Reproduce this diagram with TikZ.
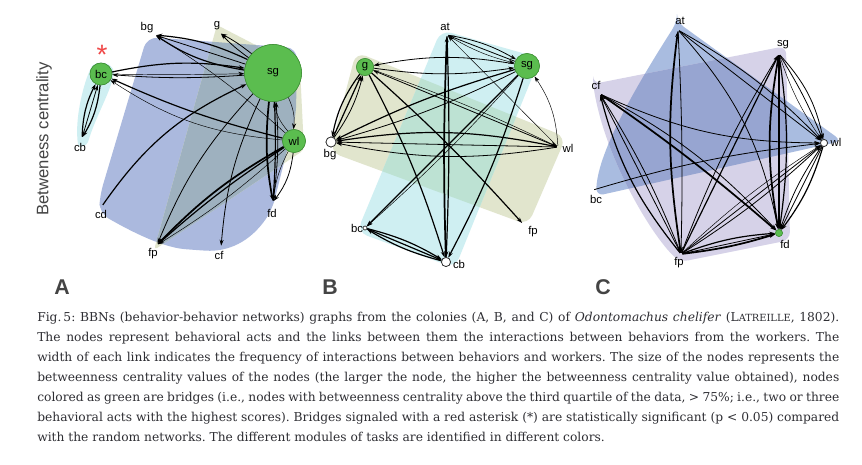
\documentclass[tikz,border=0pt]{standalone}
\usepackage{fontspec}
\setmainfont{DejaVu Serif}
\newfontfamily\lblf{Liberation Sans}
\usetikzlibrary{arrows.meta}
\definecolor{ngreen}{HTML}{5BBD4F}
\definecolor{ngreenD}{HTML}{3F8F36}
\definecolor{hcyan}{HTML}{CFEFF2}
\definecolor{hblue}{HTML}{ABB9DE}
\definecolor{hkhaki}{HTML}{E1E5CD}
\definecolor{hgrey}{HTML}{9EB1BF}
\definecolor{hmint}{HTML}{BDE2D3}
\definecolor{cblue}{HTML}{A9BCE0}
\definecolor{clav}{HTML}{D6D2E8}
\definecolor{cover}{HTML}{97A5D1}
\definecolor{captxt}{HTML}{2E2E33}
\definecolor{axtxt}{HTML}{444444}
\definecolor{astred}{HTML}{F04848}
\begin{document}
\begin{tikzpicture}[x=0.75pt,y=-0.75pt,
  pt/.style={circle,inner sep=0pt,minimum size=1.5pt},
  gn/.style={circle,fill=ngreen,draw=ngreenD,line width=0.4pt,inner sep=0pt,font=\lblf\fontsize{8.5}{9}\selectfont},
  wn/.style={circle,fill=white,draw=black!85,line width=0.5pt,inner sep=0pt},
  lbl/.style={font=\lblf\fontsize{8.5}{9}\selectfont,inner sep=0pt},
  tip/.style={-{Stealth[length=4.5pt,width=3pt]}},
  ea/.style={tip,line width=0.35pt},
  eb/.style={tip,line width=0.6pt},
  ec/.style={tip,line width=0.9pt},
  ed/.style={tip,line width=1.3pt},
  panel/.style={font=\lblf\bfseries\fontsize{16}{16}\selectfont,text=axtxt,inner sep=0pt}]
\useasboundingbox (0,0) rectangle (862,464);
\fill[white] (0,0) rectangle (862,464);

% ---------- Panel A hulls
\fill[hcyan] (78,144) .. controls (74,120) and (84,80) .. (92,66) .. controls (98,60) and (112,62) .. (114,72) .. controls (112,90) and (96,115) .. (88,142) .. controls (86,147) and (79,148) .. (78,144) -- cycle;
\fill[hblue,rounded corners=8pt] (147,37) -- (297,48) -- (296,115) -- (272,210) .. controls (250,242) and (228,252) .. (195,250) .. controls (160,247) and (125,228) .. (99,213) -- (100,195) -- cycle;
\fill[hkhaki,rounded corners=3pt] (217,25) -- (300,68) -- (304,150) -- (154,250) -- cycle;
\begin{scope}
\clip[rounded corners=8pt] (147,37) -- (297,48) -- (296,115) -- (272,210) .. controls (250,242) and (228,252) .. (195,250) .. controls (160,247) and (125,228) .. (99,213) -- (100,195) -- cycle;
\fill[hgrey,rounded corners=3pt] (217,25) -- (300,68) -- (304,150) -- (154,250) -- cycle;
\end{scope}

% ---------- Panel B hulls
\fill[hkhaki,rounded corners=8pt] (356,52) -- (566,137) -- (528,225) -- (330,152) -- cycle;
\fill[hcyan,rounded corners=8pt] (441,30) -- (540,58) -- (455,268) -- (357,232) -- cycle;
\begin{scope}
\clip[rounded corners=8pt] (356,52) -- (566,137) -- (528,225) -- (330,152) -- cycle;
\fill[hmint,rounded corners=8pt] (441,30) -- (540,58) -- (455,268) -- (357,232) -- cycle;
\end{scope}

% ---------- Panel C hulls
\fill[cblue,rounded corners=6pt] (677,22) -- (842,141) -- (596,196) .. controls (598,150) and (640,80) .. (677,22) -- cycle;
\fill[clav,rounded corners=6pt] (593,84) -- (786,46) -- (790,240) -- (680,262) .. controls (652,236) and (606,160) .. (593,84) -- cycle;
\begin{scope}
\clip[rounded corners=6pt] (677,22) -- (842,141) -- (596,196) .. controls (598,150) and (640,80) .. (677,22) -- cycle;
\fill[cover,rounded corners=6pt] (593,84) -- (786,46) -- (790,240) -- (680,262) .. controls (652,236) and (606,160) .. (593,84) -- cycle;
\end{scope}

% ---------- Panel A nodes
\node[pt] (Acb) at (82,138) {};
\node[pt] (Abg) at (155,35) {};
\node[pt] (Ag) at (220,33) {};
\node[pt] (Acd) at (102,206) {};
\node[pt] (Afd) at (273,202) {};
\node[pt] (Afp) at (157,245) {};
\node[pt] (Acf) at (221,247) {};
\node[gn,minimum size=16.5pt] (Abc) at (101,74) {};
\node[gn,minimum size=42.75pt] (Asg) at (273,73) {};
\node[gn,minimum size=17.25pt] (Awl) at (294,141) {};

% Panel A edges
\draw[ec] (Abc) to[bend left=12] (Acb);
\draw[ec] (Acb) to[bend left=12] (Abc);
\draw[eb] (Acb) -- (Abc);
\draw[ec] (Abc) to[bend left=10] (Asg);
\draw[eb] (Asg) to[bend left=4] (Abc);
\draw[ea] (Abc) to[bend right=1] (Asg);
\draw[ec] (Awl) to[bend left=5] (Abc);
\draw[ea] (Awl) to[bend left=14] (Abc);
\draw[ec] (Asg) to[bend left=12] (Abg);
\draw[ec] (Asg) to[bend right=10] (Abg);
\draw[eb] (Asg) -- (Abg);
\draw[ea] (Awl) to[bend right=5] (Abg);
\draw[eb] (Asg) to[bend left=5] (Ag);
\draw[eb] (Asg) to[bend right=5] (Ag);
\draw[ea] (Asg) to[bend left=15] (Awl);
\draw[ea] (Awl) to[bend left=15] (Asg);
\draw[ed] (Asg) to[bend right=8] (Afd);
\draw[ec] (Asg) to[bend left=3] (Afd);
\draw[eb] (Afd) to[bend right=6] (Asg);
\draw[eb] (Awl) to[bend left=15] (Afd);
\draw[ea] (Awl) to[bend right=10] (Afd);
\draw[eb] (Asg) to[bend right=10] (Acf);
\draw[eb] (Asg) to[bend right=10] (Afp);
\draw[ec] (Acd) to[bend left=15] (Asg);
\draw[ed] (Awl) to[bend right=8] (Afp);
\draw[ec] (Awl) to[bend right=4] (Afp);
\draw[ea] (Awl) to[bend left=5] (Afp);
% redraw green nodes on top
\node[gn,minimum size=16.5pt] at (Abc) {bc};
\node[gn,minimum size=42.75pt] at (Asg) {sg};
\node[gn,minimum size=17.25pt] at (Awl) {wl};

% Panel A labels
\node[lbl] (Lcb) at (80,147) {cb};
\node[lbl] (Lbg) at (147,28) {bg};
\node[lbl] (Lg) at (217,26) {g};
\node[lbl] (Lcd) at (101,214) {cd};
\node[lbl] (Lfd) at (272,213) {fd};
\node[lbl] (Lfp) at (153,254) {fp};
\node[lbl] (Lcf) at (219,255) {cf};
\node[font=\lblf\fontsize{21}{21}\selectfont,text=astred,inner sep=0pt] (ast) at (102,55) {*};
\node[rotate=90,font=\lblf\fontsize{12.5}{13}\selectfont,text=axtxt,inner sep=0pt] (ylab) at (44,139) {Betweness centrality};
\node[panel] (PA) at (62,287) {A};

% ---------- Panel B nodes
\node[pt] (Bat) at (447,35) {};
\node[gn,minimum size=12.75pt] (Bg) at (365,67) {g};
\node[gn,minimum size=18.75pt] (Bsg) at (527,66) {sg};
\node[wn,minimum size=7.5pt] (Bbg) at (331,142) {};
\node[pt] (Bwl) at (558,147) {};
\node[pt] (Bfp) at (523,224) {};
\node[wn,minimum size=3pt] (Bbc) at (365,228) {};
\node[wn,minimum size=6.75pt] (Bcb) at (446,262) {};

\draw[eb] (Bat) to[bend left=10] (Bsg);
\draw[eb] (Bsg) -- (Bat);
\draw[ea] (Bat) to[bend right=8] (Bsg);
\draw[ed] (Bcb) to[bend left=2] (Bat);
\draw[ec] (Bat) to[bend left=2] (Bcb);
\draw[ea] (Bwl) -- (Bat);
\draw[eb] (Bsg) to[bend right=10] (Bg);
\draw[eb] (Bg) to[bend right=8] (Bsg);
\draw[ec] (Bg) to[bend right=12] (Bbg);
\draw[eb] (Bbg) to[bend right=10] (Bg);
\draw[ec] (Bbg) -- (Bg);
\draw[ec] (Bg) to[bend left=5] (Bcb);
\draw[ec] (Bg) to[bend left=3] (Bfp);
\draw[eb] (Bwl) -- (Bg);
\draw[ea] (Bg) to[bend left=3] (Bwl);
\draw[ec] (Bsg) to[bend right=5] (Bbg);
\draw[eb] (Bsg) to[bend left=5] (Bbg);
\draw[ec] (Bsg) -- (Bbc);
\draw[ea] (Bsg) to[bend left=3] (Bbc);
\draw[ec] (Bsg) to[bend left=5] (Bcb);
\draw[ec] (Bwl) to[bend right=10] (Bbg);
\draw[eb] (Bwl) -- (Bbg);
\draw[eb] (Bwl) to[bend left=10] (Bbg);
\draw[ea] (Bwl) to[bend right=15] (Bsg);
\draw[ec] (Bbc) to[bend left=8] (Bcb);
\draw[ec] (Bcb) to[bend left=8] (Bbc);
\draw[ec] (Bbc) -- (Bcb);
\node[gn,minimum size=12.75pt] at (Bg) {g};
\node[gn,minimum size=18.75pt] at (Bsg) {sg};
\node[wn,minimum size=7.5pt] at (Bbg) {};
\node[wn,minimum size=6.75pt] at (Bcb) {};

\node[lbl] (LBat) at (445,27) {at};
\node[lbl] (LBbg) at (330,155) {bg};
\node[lbl] (LBwl) at (568,148) {wl};
\node[lbl] (LBfp) at (533,232) {fp};
\node[lbl] (LBbc) at (357,228) {bc};
\node[lbl] (LBcb) at (459,264) {cb};
\node[panel] (PB) at (330,287) {B};

% ---------- Panel C nodes
\node[pt] (Cat) at (678,30) {};
\node[pt] (Csg) at (779,54) {};
\node[pt] (Ccf) at (600,94) {};
\node[wn,minimum size=5.25pt] (Cwl) at (824,143) {};
\node[pt] (Cbc) at (593,190) {};
\node[gn,minimum size=5.25pt] (Cfd) at (779,233) {};
\node[pt] (Cfp) at (681,254) {};

\draw[ed] (Cfp) to[bend left=8] (Cat);
\draw[eb] (Cat) to[bend left=2] (Cfp);
\draw[eb] (Cat) -- (Cwl);
\draw[eb] (Cat) to[bend left=8] (Cwl);
\draw[eb] (Cat) to[bend left=15] (Cfd);
\draw[eb] (Csg) to[bend left=15] (Cwl);
\draw[eb] (Csg) to[bend left=5] (Cwl);
\draw[ea] (Csg) to[bend right=8] (Cwl);
\draw[ed] (Csg) to[bend right=10] (Cfd);
\draw[ec] (Csg) -- (Cfd);
\draw[ec] (Csg) to[bend left=8] (Cfd);
\draw[ec] (Cfp) -- (Csg);
\draw[eb] (Cfp) to[bend left=5] (Csg);
\draw[eb] (Ccf) to[bend right=12] (Cwl);
\draw[ed] (Ccf) to[bend left=3] (Cfd);
\draw[eb] (Ccf) to[bend left=9] (Cfd);
\draw[ec] (Cfp) to[bend left=12] (Ccf);
\draw[eb] (Ccf) -- (Cfp);
\draw[eb] (Cfp) to[bend right=5] (Ccf);
\draw[eb] (Cbc) to[bend left=5] (Cwl);
\draw[eb] (Cfp) -- (Cwl);
\draw[ea] (Cfp) to[bend left=5] (Cwl);
\draw[eb] (Cfp) to[bend right=5] (Cwl);
\draw[ec] (Cfp) to[bend left=8] (Cfd);
\draw[ed] (Cfp) to[bend right=5] (Cfd);
\draw[eb] (Cfp) -- (Cfd);
\draw[ec] (Cwl) to[bend left=10] (Cfd);
\draw[eb] (Cwl) -- (Cfd);
\draw[eb] (Cwl) to[bend right=8] (Cfd);
\node[wn,minimum size=5.25pt] at (Cwl) {};
\node[gn,minimum size=5.25pt] at (Cfd) {};

\node[lbl] (LCat) at (680,21) {at};
\node[lbl] (LCsg) at (783,45) {sg};
\node[lbl] (LCcf) at (596,85) {cf};
\node[lbl] (LCwl) at (836,142) {wl};
\node[lbl] (LCbc) at (596,199) {bc};
\node[lbl] (LCfd) at (785,244) {fd};
\node[lbl] (LCfp) at (679,263) {fp};
\node[panel] (PC) at (603,287) {C};

% ---------- Caption
\node[anchor=north west,inner sep=0pt,text width=601.5pt,align=justify,font=\fontsize{9.2}{15}\selectfont\frenchspacing,text=captxt] (cap) at (37,312) {%
Fig.\,5: BBNs (behavior-behavior networks) graphs from the colonies (A, B, and C) of \textit{Odontomachus chelifer} (L{\fontsize{7.4}{15}\selectfont ATREILLE}, 1802).\linebreak
The nodes represent behavioral acts and the links between them the interactions between behaviors from the workers. The\linebreak
width of each link indicates the frequency of interactions between behaviors and workers. The size of the nodes represents the\linebreak
betweenness centrality values of the nodes (the larger the node, the higher the betweenness centrality value obtained), nodes\linebreak
colored as green are bridges (i.e., nodes with betweenness centrality above the third quartile of the data, > 75\%; i.e., two or three\linebreak
behavioral acts with the highest scores). Bridges signaled with a red asterisk (*) are statistically significant (p < 0.05) compared\linebreak
with the random networks. The different modules of tasks are identified in different colors.};
\end{tikzpicture}
\end{document}
